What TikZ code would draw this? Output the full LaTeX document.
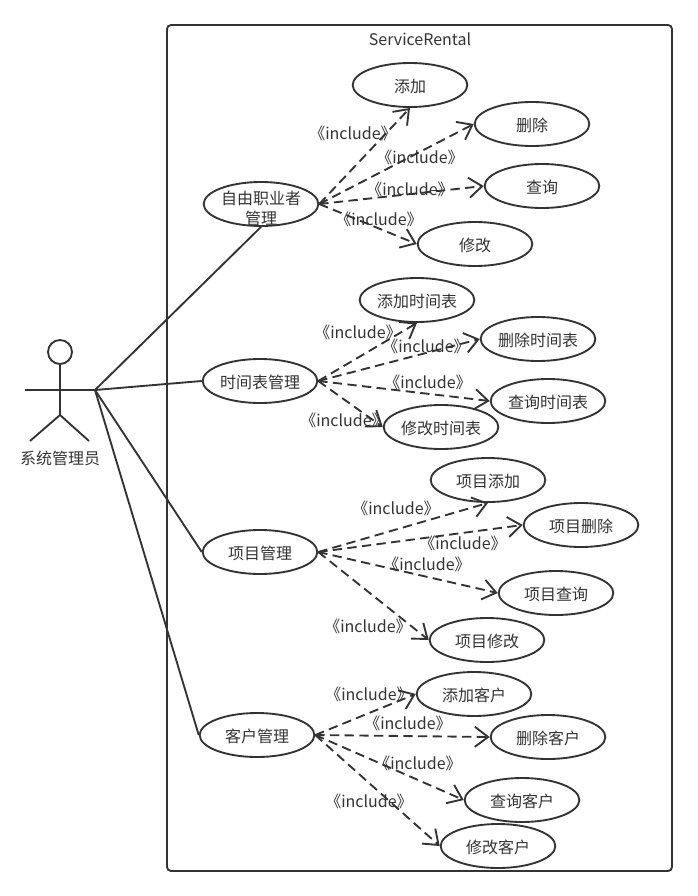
\documentclass[tikz,border=0pt]{standalone}
\usepackage{fontspec}
\setmainfont{Noto Sans CJK SC}[Scale=1]
\usepackage{xcolor}
\usetikzlibrary{arrows.meta,shapes.geometric}
\definecolor{umlink}{HTML}{333333}
\begin{document}
\begin{tikzpicture}[x=0.75pt,y=-0.75pt,
  >={Straight Barb[length=10pt,width=15pt]},
  usecase/.style={draw=umlink,ellipse,line width=1.4pt,fill=white,minimum width=86pt,minimum height=33pt,inner sep=0pt,align=center,font=\fontsize{12}{14}\selectfont,text=umlink,text height=12.5pt},
  lbl/.style={inner sep=0pt,font=\fontsize{12}{14}\selectfont,text=umlink},
  assoc/.style={draw=umlink,line width=1.4pt},
  incl/.style={->,draw=umlink,line width=1.4pt,dash pattern=on 7pt off 4pt}]
\useasboundingbox (0,0) rectangle (697,896);
\draw[draw=umlink,line width=1.4pt,rounded corners=3pt] (167,25) rectangle (672,871);
\node[lbl] (sysname) at (420,39) {ServiceRental};
% actor
\draw[draw=umlink,line width=1.4pt] (60,352) circle (9pt);
\coordinate (neck) at (60,364);
\coordinate (hip) at (60,415);
\coordinate (handL) at (25,390);
\coordinate (handR) at (95,390);
\coordinate (footL) at (30,441);
\coordinate (footR) at (89,441);
\draw[assoc] (neck) -- (hip);
\draw[assoc] (handL) -- (handR);
\draw[assoc] (footL) -- (hip) -- (footR);
\node[lbl] (admin) at (60,458) {系统管理员};
% use cases
\node[usecase] (freelancer) at (261,204) {};
\node[lbl,align=center] (freelancerName) at (261,208) {自由职业者\\[1pt]管理};
\node[usecase] (fAdd) at (410,85) {添加};
\node[usecase] (fDel) at (532,124) {删除};
\node[usecase] (fQry) at (542,186) {查询};
\node[usecase] (fMod) at (475,244) {修改};
\node[usecase] (schedule) at (260,381) {时间表管理};
\node[usecase] (sAdd) at (417,300) {添加时间表};
\node[usecase] (sDel) at (538,339) {删除时间表};
\node[usecase] (sQry) at (548,401) {查询时间表};
\node[usecase] (sMod) at (441,427) {修改时间表};
\node[usecase] (project) at (260,552) {项目管理};
\node[usecase] (pAdd) at (488,480) {项目添加};
\node[usecase] (pDel) at (581,525) {项目删除};
\node[usecase] (pQry) at (556,593) {项目查询};
\node[usecase] (pMod) at (487,640) {项目修改};
\node[usecase] (client) at (257,735) {客户管理};
\node[usecase] (cAdd) at (474,694) {添加客户};
\node[usecase] (cDel) at (548,737) {删除客户};
\node[usecase] (cQry) at (522,800) {查询客户};
\node[usecase] (cMod) at (498,846) {修改客户};
% associations
\draw[assoc] (handR) -- (freelancer.south);
\draw[assoc] (handR) -- (schedule.west);
\draw[assoc] (handR) -- (project.west);
\draw[assoc] (handR) -- (client.west);
% includes
\draw[incl] (freelancer.east) -- (fAdd.south);
\draw[incl] (freelancer.east) -- (fDel.west);
\draw[incl] (freelancer.east) -- (fQry.west);
\draw[incl] (freelancer.east) -- (fMod.west);
\draw[incl] (schedule.east) -- (sAdd.south);
\draw[incl] (schedule.east) -- (sDel.west);
\draw[incl] (schedule.east) -- (sQry.west);
\draw[incl] (schedule.east) -- (sMod.west);
\draw[incl] (project.east) -- (pAdd.south);
\draw[incl] (project.east) -- (pDel.west);
\draw[incl] (project.east) -- (pQry.west);
\draw[incl] (project.east) -- (pMod.west);
\draw[incl] (client.east) -- (cAdd.west);
\draw[incl] (client.east) -- (cDel.west);
\draw[incl] (client.east) -- (cQry.west);
\draw[incl] (client.east) -- (cMod.west);
% labels
\node[lbl] (fAddInc) at (353,133) {《include》};
\node[lbl] (fDelInc) at (420,157) {《include》};
\node[lbl] (fQryInc) at (410,189) {《include》};
\node[lbl] (fModInc) at (379,219) {《include》};
\node[lbl] (sAddInc) at (358,332) {《include》};
\node[lbl] (sDelInc) at (426,346) {《include》};
\node[lbl] (sQryInc) at (428,382) {《include》};
\node[lbl] (sModInc) at (344,420) {《include》};
\node[lbl] (pAddInc) at (396,508) {《include》};
\node[lbl] (pDelInc) at (463,543) {《include》};
\node[lbl] (pQryInc) at (427,564) {《include》};
\node[lbl] (pModInc) at (368,626) {《include》};
\node[lbl] (cAddInc) at (369,694) {《include》};
\node[lbl] (cDelInc) at (408,723) {《include》};
\node[lbl] (cQryInc) at (418,763) {《include》};
\node[lbl] (cModInc) at (369,801) {《include》};
\end{tikzpicture}
\end{document}
